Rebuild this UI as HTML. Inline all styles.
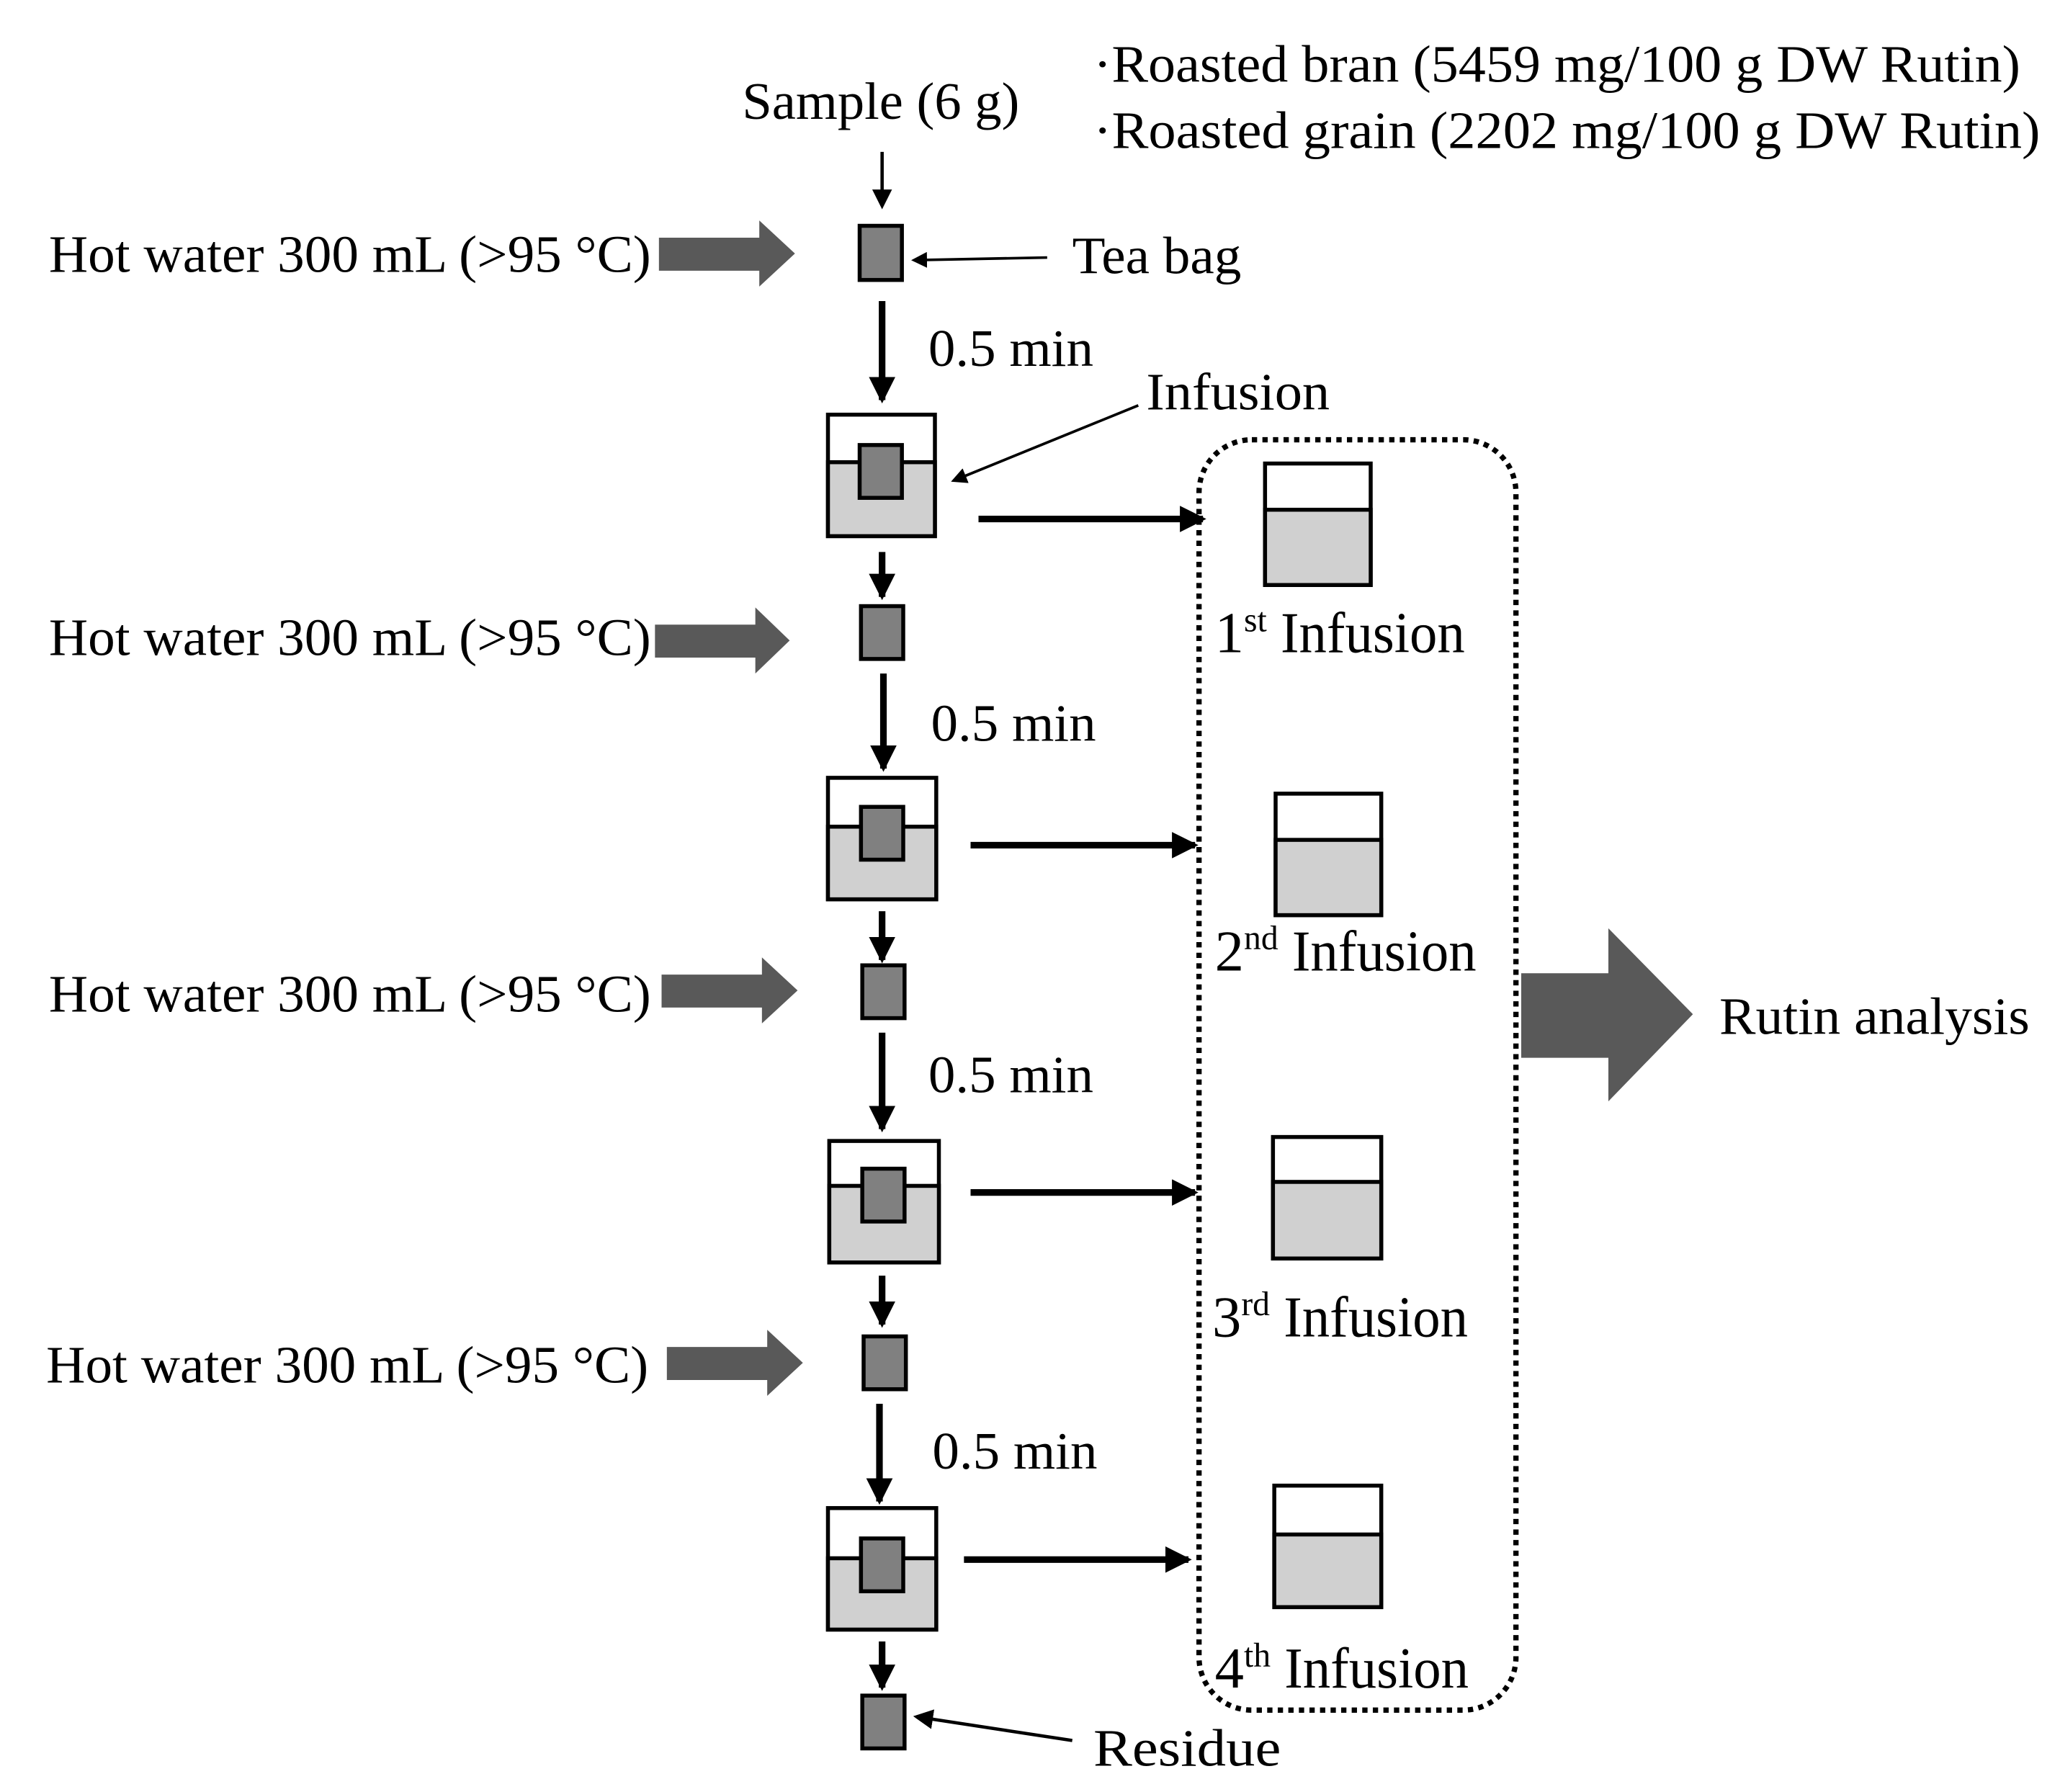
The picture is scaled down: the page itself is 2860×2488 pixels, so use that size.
<!DOCTYPE html>
<html><head><meta charset="utf-8"><style>html,body{margin:0;padding:0;background:#fff}svg{display:block}</style></head>
<body>
<svg width="2860" height="2488" viewBox="0 0 1560 1357" preserveAspectRatio="none" xmlns="http://www.w3.org/2000/svg" font-family="Liberation Serif, serif" fill="#000">
<defs>
<marker id="ah" markerWidth="6" markerHeight="6" refX="5" refY="3" orient="auto" markerUnits="strokeWidth"><path d="M0,0 L6,3 L0,6 z" fill="#000"/></marker>
<marker id="ah2" markerWidth="4" markerHeight="4" refX="3.5" refY="2" orient="auto" markerUnits="strokeWidth"><path d="M0,0 L4,2 L0,4 z" fill="#000"/></marker>
</defs>
<g font-size="40">
<text x="562" y="90" textLength="210" lengthAdjust="spacingAndGlyphs">Sample (6 g)</text>
<text x="828" y="62" textLength="702" lengthAdjust="spacingAndGlyphs">·Roasted bran (5459 mg/100 g DW Rutin)</text>
<text x="828" y="112" textLength="717" lengthAdjust="spacingAndGlyphs">·Roasted grain (2202 mg/100 g DW Rutin)</text>
<text x="812" y="207" textLength="128" lengthAdjust="spacingAndGlyphs">Tea bag</text>
<text x="868" y="310" textLength="139" lengthAdjust="spacingAndGlyphs">Infusion</text>
<text x="37" y="206" textLength="456" lengthAdjust="spacingAndGlyphs">Hot water 300 mL (&gt;95 °C)</text>
<text x="37" y="496" textLength="456" lengthAdjust="spacingAndGlyphs">Hot water 300 mL (&gt;95 °C)</text>
<text x="37" y="766" textLength="456" lengthAdjust="spacingAndGlyphs">Hot water 300 mL (&gt;95 °C)</text>
<text x="35" y="1047" textLength="456" lengthAdjust="spacingAndGlyphs">Hot water 300 mL (&gt;95 °C)</text>
<text x="703" y="277" textLength="125" lengthAdjust="spacingAndGlyphs">0.5 min</text>
<text x="705" y="561" textLength="125" lengthAdjust="spacingAndGlyphs">0.5 min</text>
<text x="703" y="827" textLength="125" lengthAdjust="spacingAndGlyphs">0.5 min</text>
<text x="706" y="1112" textLength="125" lengthAdjust="spacingAndGlyphs">0.5 min</text>
<text x="828" y="1337" textLength="142" lengthAdjust="spacingAndGlyphs">Residue</text>
<text x="1302" y="783" textLength="235" lengthAdjust="spacingAndGlyphs">Rutin analysis</text>
</g>
<g font-size="44">
<text x="920" y="494">1<tspan font-size="26" dy="-16">st</tspan><tspan dy="16" textLength="150" lengthAdjust="spacingAndGlyphs"> Infusion</tspan></text>
<text x="920" y="735">2<tspan font-size="26" dy="-16">nd</tspan><tspan dy="16" textLength="150" lengthAdjust="spacingAndGlyphs"> Infusion</tspan></text>
<text x="918" y="1012">3<tspan font-size="26" dy="-16">rd</tspan><tspan dy="16" textLength="150" lengthAdjust="spacingAndGlyphs"> Infusion</tspan></text>
<text x="920" y="1278">4<tspan font-size="26" dy="-16">th</tspan><tspan dy="16" textLength="150" lengthAdjust="spacingAndGlyphs"> Infusion</tspan></text>
</g>
<g fill="#595959">
<path d="M499,180 H575 V167 L602,192 L575,217 V205 H499 z"/>
<path d="M496,473 H572 V460 L598,485 L572,510 V498 H496 z"/>
<path d="M501,738 H577 V725 L604,750 L577,775 V763 H501 z"/>
<path d="M505,1020 H581 V1007 L608,1032 L581,1057 V1045 H505 z"/>
<path d="M1152,737 H1218 V703 L1282,768 L1218,834 V801 H1152 z"/>
</g>
<g stroke="#000" fill="none">
<line x1="668" y1="115" x2="668" y2="156" stroke-width="2.5" marker-end="url(#ah)"/>
<line x1="793" y1="195" x2="692" y2="197" stroke-width="2" marker-end="url(#ah)"/>
<line x1="862" y1="307" x2="722" y2="364" stroke-width="2" marker-end="url(#ah)"/>
<line x1="812" y1="1318" x2="694" y2="1300" stroke-width="2.5" marker-end="url(#ah)"/>
<line x1="668" y1="228" x2="668" y2="303" stroke-width="5" marker-end="url(#ah2)"/>
<line x1="669" y1="510" x2="669" y2="582" stroke-width="5" marker-end="url(#ah2)"/>
<line x1="668" y1="782" x2="668" y2="855" stroke-width="5" marker-end="url(#ah2)"/>
<line x1="666" y1="1063" x2="666" y2="1137" stroke-width="5" marker-end="url(#ah2)"/>
<line x1="668" y1="418" x2="668" y2="452" stroke-width="5" marker-end="url(#ah2)"/>
<line x1="668" y1="690" x2="668" y2="727" stroke-width="5" marker-end="url(#ah2)"/>
<line x1="668" y1="966" x2="668" y2="1003" stroke-width="5" marker-end="url(#ah2)"/>
<line x1="668" y1="1243" x2="668" y2="1278" stroke-width="5" marker-end="url(#ah2)"/>
<line x1="741" y1="393" x2="911" y2="393" stroke-width="5" marker-end="url(#ah2)"/>
<line x1="735" y1="640" x2="905" y2="640" stroke-width="5" marker-end="url(#ah2)"/>
<line x1="735" y1="903" x2="905" y2="903" stroke-width="5" marker-end="url(#ah2)"/>
<line x1="730" y1="1181" x2="900" y2="1181" stroke-width="5" marker-end="url(#ah2)"/>
<rect x="908" y="333" width="240" height="962" rx="40" stroke-width="4" stroke-dasharray="4,4"/>
</g>
<g stroke="#000" stroke-width="3">
<rect x="651" y="171" width="32" height="41" fill="#808080"/>
<rect x="652" y="459" width="32" height="40" fill="#808080"/>
<rect x="653" y="731" width="32" height="40" fill="#808080"/>
<rect x="654" y="1012" width="32" height="40" fill="#808080"/>
<rect x="653" y="1284" width="32" height="40" fill="#808080"/>
<rect x="627" y="314" width="81" height="92" fill="#fff"/><rect x="627" y="350" width="81" height="56" fill="#d0d0d0"/><rect x="651" y="337" width="32" height="40" fill="#808080"/>
<rect x="627" y="589" width="82" height="92" fill="#fff"/><rect x="627" y="626" width="82" height="55" fill="#d0d0d0"/><rect x="652" y="611" width="32" height="40" fill="#808080"/>
<rect x="628" y="864" width="83" height="92" fill="#fff"/><rect x="628" y="898" width="83" height="58" fill="#d0d0d0"/><rect x="653" y="885" width="32" height="40" fill="#808080"/>
<rect x="627" y="1142" width="82" height="92" fill="#fff"/><rect x="627" y="1180" width="82" height="54" fill="#d0d0d0"/><rect x="652" y="1165" width="32" height="40" fill="#808080"/>
<rect x="958" y="351" width="80" height="92" fill="#fff"/><rect x="958" y="386" width="80" height="57" fill="#d0d0d0"/>
<rect x="966" y="601" width="80" height="92" fill="#fff"/><rect x="966" y="636" width="80" height="57" fill="#d0d0d0"/>
<rect x="964" y="861" width="82" height="92" fill="#fff"/><rect x="964" y="895" width="82" height="58" fill="#d0d0d0"/>
<rect x="965" y="1125" width="81" height="92" fill="#fff"/><rect x="965" y="1162" width="81" height="55" fill="#d0d0d0"/>
</g>
</svg>
</body></html>
